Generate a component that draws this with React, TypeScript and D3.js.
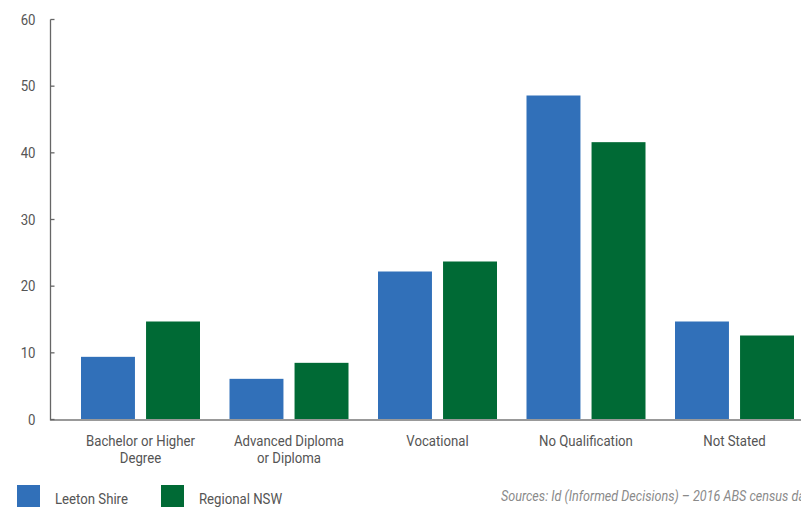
import React from "react";
import * as d3 from "d3";

const categories: string[][] = [
  ["Bachelor or Higher", "Degree"],
  ["Advanced Diploma", "or Diploma"],
  ["Vocational"],
  ["No Qualification"],
  ["Not Stated"],
];
const leeton = [9.4, 6.1, 22.2, 48.6, 14.7];
const regional = [14.7, 8.5, 23.7, 41.6, 12.6];
const seriesNames = ["Leeton Shire", "Regional NSW"];
const yTicks = [0, 10, 20, 30, 40, 50, 60];
const source = "Sources: Id (Informed Decisions) – 2016 ABS census data";

const W = 801;
const H = 507;
const BLUE = "#3170B9";
const GREEN = "#006A35";
const FONT = "Roboto, 'Liberation Sans', sans-serif";
const SX = 0.88;

function T(props: {
  x: number;
  y: number;
  anchor?: "start" | "middle" | "end";
  size: number;
  fill: string;
  italic?: boolean;
  sx?: number;
  dy?: string;
  children: React.ReactNode;
}) {
  const s = props.sx ?? SX;
  return (
    <g transform={`translate(${props.x},${props.y}) scale(${s},1)`}>
      <text
        textAnchor={props.anchor ?? "start"}
        fontSize={props.size}
        fill={props.fill}
        fontStyle={props.italic ? "italic" : "normal"}
        dy={props.dy}
      >
        {props.children}
      </text>
    </g>
  );
}

export default function App() {
  const y = d3.scaleLinear().domain([0, 60]).range([419.5, 19.5]);
  const keys = categories.map((c) => c.join(" "));
  const x = d3.scaleBand<string>().domain(keys).range([66.25, 808.75]).paddingInner(0).paddingOuter(0);
  const inner = d3.scaleBand<string>().domain(seriesNames).range([0, 119]).paddingInner(11 / 64.5).paddingOuter(0);
  const axisX = 50.5;
  const groupOffset = (x.bandwidth() - 119) / 2;

  return (
    <svg width={W} height={H} style={{ position: "absolute", left: 0, top: 0 }} fontFamily={FONT}>
      <rect width={W} height={H} fill="#fff" />
      {keys.map((k, i) => (
        <g key={k} transform={`translate(${(x(k) ?? 0) + groupOffset},0)`}>
          {[leeton[i], regional[i]].map((v, j) => (
            <rect
              key={j}
              x={inner(seriesNames[j])}
              y={y(v)}
              width={inner.bandwidth()}
              height={y(0) - y(v)}
              fill={j === 0 ? BLUE : GREEN}
            />
          ))}
        </g>
      ))}
      <line x1={axisX} x2={W} y1={y(0) + 0.5} y2={y(0) + 0.5} stroke="#999" strokeWidth={2} />
      <line x1={axisX} x2={axisX} y1={y(60)} y2={y(0) + 1} stroke="#666" strokeWidth={1.3} />
      {yTicks.map((t) => (
        <g key={t}>
          <line x1={axisX} x2={axisX + 4} y1={y(t)} y2={y(t)} stroke="#666" strokeWidth={1.3} />
          <T x={35.5} y={y(t)} dy="0.35em" anchor="end" size={15} fill="#555">
            {t}
          </T>
        </g>
      ))}
      {categories.map((lines, i) => {
        const cx = (x(keys[i]) ?? 0) + x.bandwidth() / 2;
        return lines.map((l, li) => (
          <T key={`${i}-${li}`} x={cx} y={446 + li * 17} anchor="middle" size={15} fill="#555">
            {l}
          </T>
        ));
      })}
      <rect x={17} y={485} width={23} height={23} fill={BLUE} />
      <T x={55} y={504} size={15} fill="#555">{seriesNames[0]}</T>
      <rect x={161} y={485} width={23} height={23} fill={GREEN} />
      <T x={199} y={504} size={15} fill="#555">{seriesNames[1]}</T>
      <T x={501} y={500.5} size={15} fill="#8a8a8a" italic sx={0.84}>{source}</T>
    </svg>
  );
}
